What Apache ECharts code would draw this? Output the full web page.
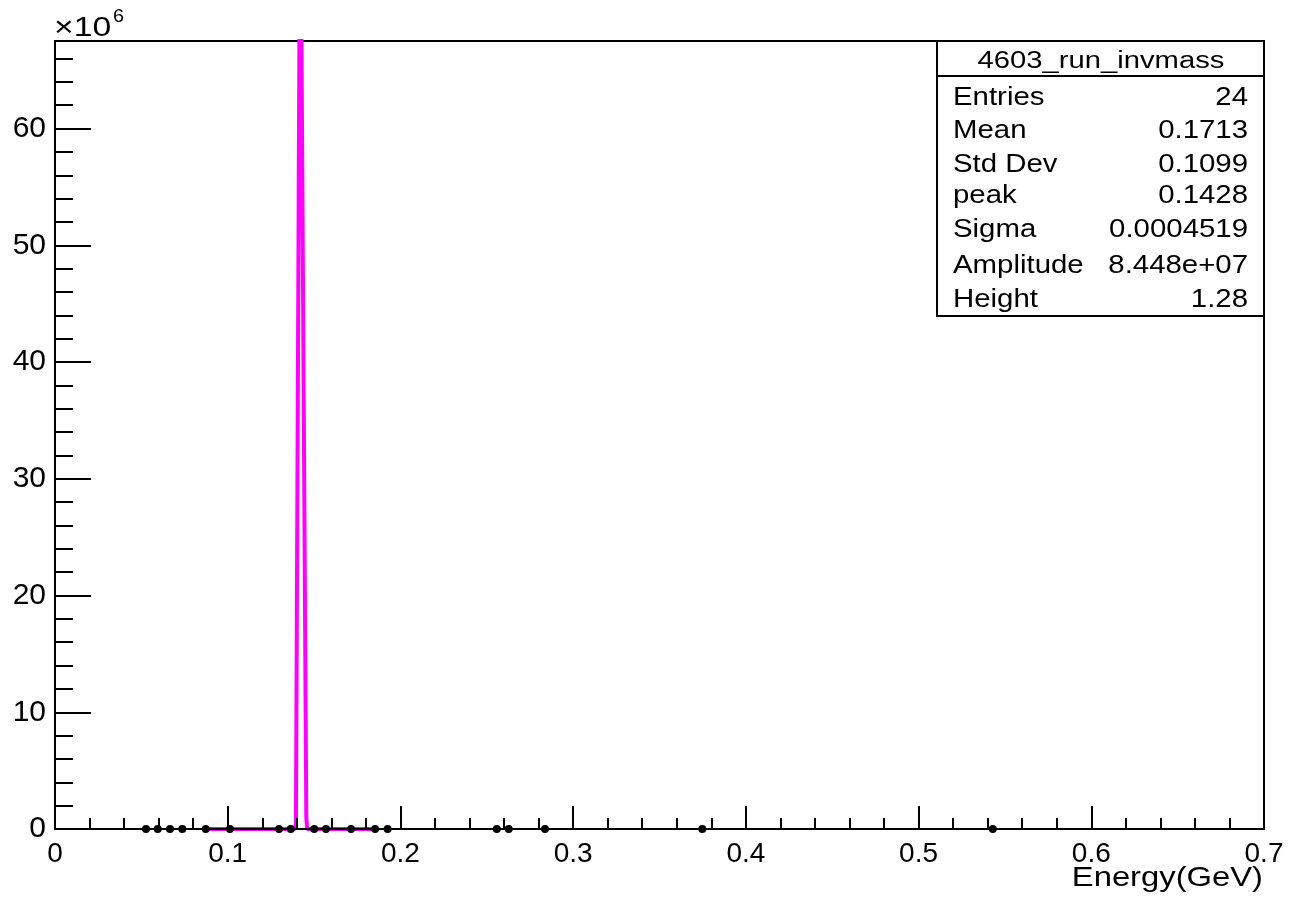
<!DOCTYPE html>
<html>
<head>
<meta charset="utf-8">
<script src="https://cdn.jsdelivr.net/npm/echarts@6/dist/echarts.min.js"></script>
<style>
html,body{margin:0;padding:0;background:#fff;}
#chart{width:1290px;height:903px;}
</style>
</head>
<body>
<div id="chart"></div>
<script>
// ---- data ----
const pointX = [0.0527, 0.0595, 0.0666, 0.0737, 0.0873, 0.1013, 0.1297, 0.1365, 0.1501, 0.1569,
                0.1714, 0.1853, 0.1926, 0.2558, 0.2627, 0.2837, 0.3748, 0.5430];
const pointY = [1, 1, 1, 1, 1, 1, 1, 1, 1, 1, 1, 1, 1, 1, 1, 1, 1, 1];
const fitX = [0.0873, 0.1390, 0.1395, 0.1420, 0.1455, 0.1460, 0.1862];
const fitY = [0, 0, 0.5e6, 84.5e6, 1.0e6, 0, 0];
const statsTitle = '4603_run_invmass';
const statsNames = ['Entries', 'Mean', 'Std Dev', 'peak', 'Sigma', 'Amplitude', 'Height'];
const statsValues = ['24', '0.1713', '0.1099', '0.1428', '0.0004519', '8.448e+07', '1.28'];
const xTitle = 'Energy(GeV)';
const yScaleLabel = '\u00d710';
const yScaleExp = '6';

const FONT = '"Liberation Sans", Arial, Helvetica, sans-serif';
const chart = echarts.init(document.getElementById('chart'), null, {renderer: 'canvas'});

// text placed with its baseline at (x, baseline), horizontally stretched like the reference
function txt(s, x, baseline, size, align, sx) {
  return {type: 'text', z: 102, x: x, y: baseline - 0.33 * size, scaleX: sx || 1,
    style: {text: s, x: 0, y: 0, fill: '#000', fontSize: size, fontFamily: FONT,
      align: align, verticalAlign: 'middle'}};
}

const statsBaselines = [106, 139.5, 173.5, 204, 238.5, 274, 308.5];
const statsFont = 26;
const statsStretch = 1.13;
const graphics = [];
graphics.push({type: 'rect', z: 100, shape: {x: 937, y: 41, width: 327, height: 275},
  style: {fill: '#fff', stroke: '#000', lineWidth: 2}});
graphics.push({type: 'line', z: 101, shape: {x1: 937, y1: 76, x2: 1264, y2: 76},
  style: {stroke: '#000', lineWidth: 2}});
graphics.push(txt(statsTitle, 1101, 69, 23, 'center', 1.27));
statsNames.forEach((n, i) => {
  graphics.push(txt(n, 953, statsBaselines[i], statsFont, 'left', statsStretch));
  graphics.push(txt(statsValues[i], 1248, statsBaselines[i], statsFont, 'right', statsStretch));
});
graphics.push(txt(yScaleLabel, 54, 37, 27, 'left', 1.25));
graphics.push(txt(yScaleExp, 113, 23, 18, 'left', 1.1));
graphics.push(txt(xTitle, 1263, 888, 28, 'right', 1.17));

const option = {
  animation: false,
  backgroundColor: '#fff',
  grid: {left: 55, right: 26, top: 41, bottom: 74, show: true, borderColor: '#000', borderWidth: 2,
         containLabel: false},
  xAxis: {
    type: 'value', min: 0, max: 0.7, interval: 0.1, z: 3,
    axisLine: {show: true, onZero: false, lineStyle: {color: '#000', width: 2}},
    axisTick: {show: true, inside: true, length: 23, lineStyle: {color: '#000', width: 2}},
    minorTick: {show: true, splitNumber: 5, length: 11, lineStyle: {color: '#000', width: 2}},
    splitLine: {show: false},
    axisLabel: {show: true, margin: 11, color: '#000', fontSize: 28, fontFamily: FONT,
      formatter: v => (Math.round(v * 10) / 10).toString()}
  },
  yAxis: {
    type: 'value', min: 0, max: 67.5e6, interval: 10e6, z: 3,
    axisLine: {show: true, onZero: false, lineStyle: {color: '#000', width: 2}},
    axisTick: {show: true, inside: true, length: 36, lineStyle: {color: '#000', width: 2}},
    minorTick: {show: true, splitNumber: 5, length: 18, lineStyle: {color: '#000', width: 2}},
    splitLine: {show: false},
    axisLabel: {show: true, margin: 9, color: '#000', fontSize: 30, fontFamily: FONT,
      showMaxLabel: false, formatter: v => String(Math.round(v / 1e6))}
  },
  series: [
    {
      type: 'line', name: 'fit', z: 2,
      data: fitX.map((x, i) => [x, fitY[i]]),
      showSymbol: false, symbol: 'none', clip: true,
      lineStyle: {color: '#ff00ff', width: 4},
      itemStyle: {color: '#ff00ff'}
    },
    {
      type: 'scatter', name: 'data', z: 5,
      data: pointX.map((x, i) => [x, pointY[i]]),
      symbol: 'circle', symbolSize: 8,
      itemStyle: {color: '#000', opacity: 1}
    }
  ],
  graphic: graphics
};
chart.setOption(option);
</script>
</body>
</html>
